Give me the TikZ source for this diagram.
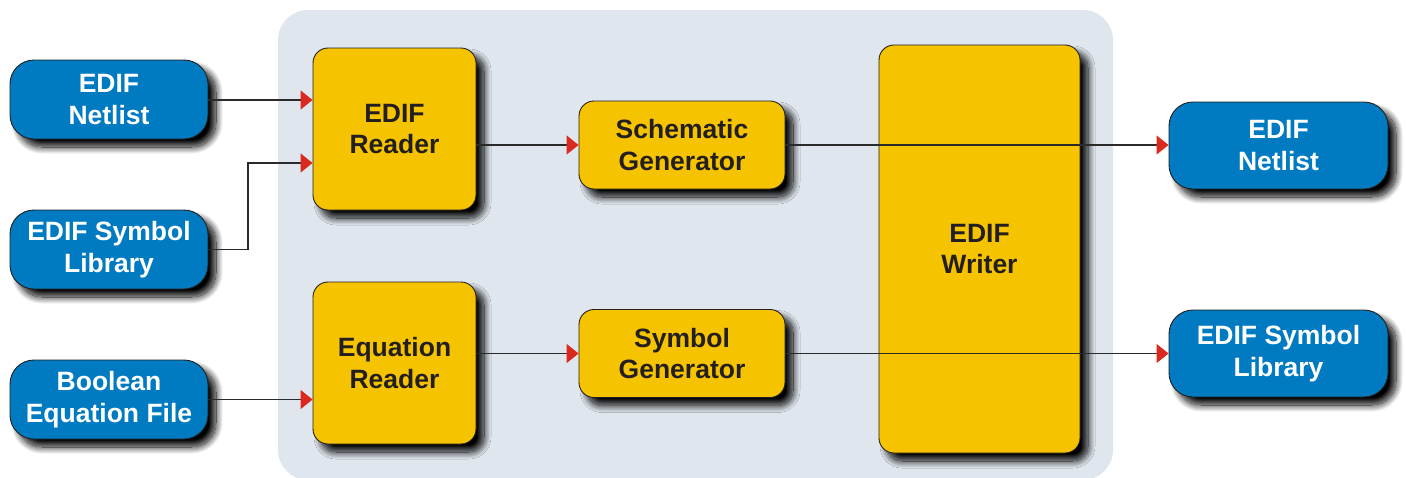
\documentclass[tikz,border=0pt]{standalone}
\usepackage{fontspec}
\setmainfont{Liberation Sans}
\usetikzlibrary{arrows.meta,shadows.blur}
\definecolor{panel}{HTML}{DFE6ED}
\definecolor{ioblue}{HTML}{007BC2}
\definecolor{procyellow}{HTML}{F6C300}
\definecolor{ink}{HTML}{231F20}
\definecolor{wire}{HTML}{2A2A2A}
\definecolor{tipred}{HTML}{DA2A1F}
\tikzset{
  dropshade/.style={blur shadow={shadow xshift=8pt, shadow yshift=-8pt,
      shadow blur radius=7pt, shadow blur steps=16, shadow opacity=100}},
  boxtext/.style={align=center, font=\fontsize{26.5}{31.5}\selectfont\bfseries},
  io/.style={draw=ink, line width=0.9pt, fill=ioblue, text=white,
      rounded corners=24pt, inner sep=0pt, boxtext, dropshade},
  proc/.style={draw=ink, line width=0.9pt, fill=procyellow, text=ink,
      rounded corners=15pt, inner sep=0pt, boxtext, dropshade},
  link/.style={draw=wire, line width=1.1pt,
      -{Triangle[length=12pt,width=19pt,color=tipred,fill=tipred]}},
}
\begin{document}
\begin{tikzpicture}[x=1pt,y=-1pt]
\useasboundingbox (0,0) rectangle (1407,477);

% tool boundary
\fill[panel, rounded corners=30pt] (278,10) rectangle (1113,480);

% inputs
\node[io, minimum width=198pt, minimum height=79pt] (inNet) at (109,99.5) {EDIF\\Netlist};
\node[io, minimum width=198pt, minimum height=79pt] (inSym) at (109,249.5) {EDIF Symbol\\Library};
\node[io, minimum width=198pt, minimum height=79pt] (inBool) at (109,399.5) {Boolean\\Equation File};

% readers
\node[proc, minimum width=163pt, minimum height=162pt] (rdEdif) at (394.5,129) {EDIF\\Reader};
\node[proc, minimum width=163pt, minimum height=162pt] (rdEqn) at (394.5,363) {Equation\\Reader};

% generators
\node[proc, minimum width=206pt, minimum height=88pt] (genSch) at (682,145) {Schematic\\Generator};
\node[proc, minimum width=206pt, minimum height=88pt] (genSym) at (682,353.5) {Symbol\\Generator};

% writer
\node[proc, minimum width=201pt, minimum height=408pt] (writer) at (979.5,249) {EDIF\\Writer};

% outputs
\node[io, minimum width=219pt, minimum height=87pt] (outNet) at (1278.5,145.5) {EDIF\\Netlist};
\node[io, minimum width=219pt, minimum height=87pt] (outSym) at (1278.5,353.5) {EDIF Symbol\\Library};

% connectors
\draw[link] (inNet.east |- 0,100) -- (rdEdif.west |- 0,100);
\draw[link] (inSym.east) -- (248,249.5) -- (248,163) -- (rdEdif.west |- 0,163);
\draw[link] (inBool.east) -- (rdEqn.west |- inBool.east);
\draw[link] (rdEdif.east |- 0,145) -- (genSch.west);
\draw[link] (rdEqn.east |- 0,353.5) -- (genSym.west);
\draw[link] (genSch.east) -- (outNet.west |- genSch.east);
\draw[link] (genSym.east) -- (outSym.west |- genSym.east);
\end{tikzpicture}
\end{document}
